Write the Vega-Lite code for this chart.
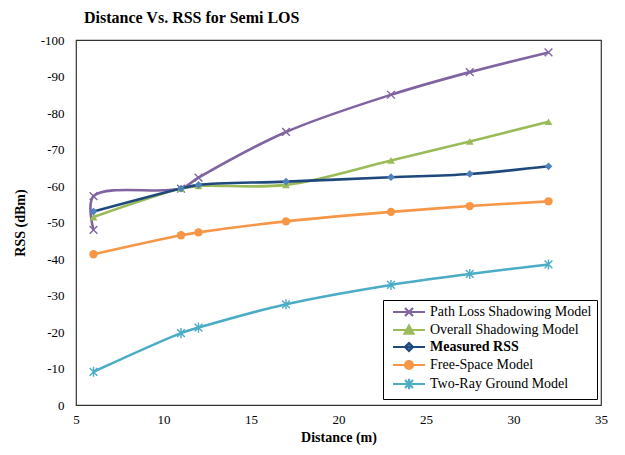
{
  "$schema": "https://vega.github.io/schema/vega-lite/v6.json",
  "autosize": {"type": "none"},
  "width": 525,
  "height": 365,
  "padding": {"left": 76, "top": 40, "right": 24, "bottom": 50},
  "background": "white",
  "config": {
    "font": "Times New Roman",
    "view": {"stroke": "#333", "strokeWidth": 1.2},
    "axis": {"labelFont": "Times New Roman", "titleFont": "Times New Roman", "labelFontSize": 13, "titleFontSize": 14, "labelColor": "#000", "titleColor": "#000", "grid": false, "ticks": false, "domain": false},
    "legend": {"labelFont": "Times New Roman"},
    "title": {"font": "Times New Roman"}
  },
  "title": {"text": "Distance Vs. RSS for Semi LOS", "anchor": "start", "frame": "group", "dx": 8, "offset": 8, "fontSize": 16, "fontWeight": "bold", "color": "#000", "font": "Times New Roman"},
  "data": {"values": [
    {"series": "Path Loss Shadowing Model", "ord": 1, "x": 6, "y": -48},
    {"series": "Path Loss Shadowing Model", "ord": 2, "x": 6, "y": -57.2},
    {"series": "Path Loss Shadowing Model", "ord": 3, "x": 11, "y": -59.3},
    {"series": "Path Loss Shadowing Model", "ord": 4, "x": 12, "y": -62.3},
    {"series": "Path Loss Shadowing Model", "ord": 5, "x": 17, "y": -74.8},
    {"series": "Path Loss Shadowing Model", "ord": 6, "x": 23, "y": -85},
    {"series": "Path Loss Shadowing Model", "ord": 7, "x": 27.5, "y": -91.2},
    {"series": "Path Loss Shadowing Model", "ord": 8, "x": 32, "y": -96.6},
    {"series": "Overall Shadowing Model", "ord": 1, "x": 6, "y": -51.5},
    {"series": "Overall Shadowing Model", "ord": 2, "x": 11, "y": -59.3},
    {"series": "Overall Shadowing Model", "ord": 3, "x": 12, "y": -60},
    {"series": "Overall Shadowing Model", "ord": 4, "x": 17, "y": -60.3},
    {"series": "Overall Shadowing Model", "ord": 5, "x": 23, "y": -67},
    {"series": "Overall Shadowing Model", "ord": 6, "x": 27.5, "y": -72.2},
    {"series": "Overall Shadowing Model", "ord": 7, "x": 32, "y": -77.6},
    {"series": "Measured RSS", "ord": 1, "x": 6, "y": -53},
    {"series": "Measured RSS", "ord": 2, "x": 11, "y": -59.3},
    {"series": "Measured RSS", "ord": 3, "x": 12, "y": -60.3},
    {"series": "Measured RSS", "ord": 4, "x": 17, "y": -61.2},
    {"series": "Measured RSS", "ord": 5, "x": 23, "y": -62.4},
    {"series": "Measured RSS", "ord": 6, "x": 27.5, "y": -63.3},
    {"series": "Measured RSS", "ord": 7, "x": 32, "y": -65.4},
    {"series": "Free-Space Model", "ord": 1, "x": 6, "y": -41.3},
    {"series": "Free-Space Model", "ord": 2, "x": 11, "y": -46.5},
    {"series": "Free-Space Model", "ord": 3, "x": 12, "y": -47.3},
    {"series": "Free-Space Model", "ord": 4, "x": 17, "y": -50.3},
    {"series": "Free-Space Model", "ord": 5, "x": 23, "y": -52.9},
    {"series": "Free-Space Model", "ord": 6, "x": 27.5, "y": -54.5},
    {"series": "Free-Space Model", "ord": 7, "x": 32, "y": -55.8},
    {"series": "Two-Ray Ground Model", "ord": 1, "x": 6, "y": -9.1},
    {"series": "Two-Ray Ground Model", "ord": 2, "x": 11, "y": -19.7},
    {"series": "Two-Ray Ground Model", "ord": 3, "x": 12, "y": -21.2},
    {"series": "Two-Ray Ground Model", "ord": 4, "x": 17, "y": -27.6},
    {"series": "Two-Ray Ground Model", "ord": 5, "x": 23, "y": -32.9},
    {"series": "Two-Ray Ground Model", "ord": 6, "x": 27.5, "y": -35.9},
    {"series": "Two-Ray Ground Model", "ord": 7, "x": 32, "y": -38.5}
  ]},
  "encoding": {
    "x": {"field": "x", "type": "quantitative", "scale": {"domain": [5, 35], "nice": false, "zero": false}, "axis": {"values": [5, 10, 15, 20, 25, 30, 35], "title": "Distance (m)", "titleFontWeight": "bold", "labelPadding": 8, "titlePadding": 4, "labelFlush": false,
      "encode": {"labels": {"update": {"font": {"value": "Times New Roman"}}}, "title": {"update": {"font": {"value": "Times New Roman"}}}}}},
    "y": {"field": "y", "type": "quantitative", "scale": {"domain": [0, -100], "nice": false, "zero": false}, "axis": {"values": [0, -10, -20, -30, -40, -50, -60, -70, -80, -90, -100], "labelExpr": "'' + datum.value", "title": "RSS (dBm)", "titleFontWeight": "bold", "labelPadding": 12, "titlePadding": 13,
      "encode": {"labels": {"update": {"font": {"value": "Times New Roman"}}}, "title": {"update": {"font": {"value": "Times New Roman"}}}}}}
  },
  "layer": [
    {
      "mark": {"type": "line", "interpolate": "catmull-rom", "strokeWidth": 2.6},
      "encoding": {
        "order": {"field": "ord", "type": "quantitative"},
        "color": {"field": "series", "type": "nominal",
          "scale": {"domain": ["Path Loss Shadowing Model", "Overall Shadowing Model", "Measured RSS", "Free-Space Model", "Two-Ray Ground Model"], "range": ["#8064A2", "#9BBB59", "#1F497D", "#F79646", "#4BACC6"]},
          "legend": {
            "title": null, "orient": "none", "legendX": 307, "legendY": 260,
            "strokeColor": "#000", "fillColor": "white", "padding": 5,
            "labelFont": "Times New Roman", "labelFontSize": 14, "labelColor": "#000", "labelLimit": 300,
            "symbolSize": 64, "symbolStrokeWidth": 2.2, "symbolOffset": 14, "labelOffset": 14, "rowPadding": 0,
            "encode": {
              "symbols": {"update": {
                "shape": {"signal": "datum.value === 'Path Loss Shadowing Model' ? 'M-4,0L4,0M-1,-1L1,1M-1,1L1,-1' : datum.value === 'Overall Shadowing Model' ? 'M-4,0L4,0M0,-1.1L1.1,0.9L-1.1,0.9Z' : datum.value === 'Measured RSS' ? 'M-4,0L4,0M0,-1L1,0L0,1L-1,0Z' : datum.value === 'Free-Space Model' ? 'M-4,0L4,0M1,0A1,1,0,1,1,-1,0A1,1,0,1,1,1,0Z' : 'M-4,0L4,0M-1,-1L1,1M-1,1L1,-1M0,-1.3L0,1.3'"},
                "fill": {"signal": "datum.value === 'Path Loss Shadowing Model' ? '#8064A2' : datum.value === 'Overall Shadowing Model' ? '#9BBB59' : datum.value === 'Measured RSS' ? '#4F81BD' : datum.value === 'Free-Space Model' ? '#F79646' : '#4BACC6'"},
                "strokeWidth": {"value": 2.2},
                "fillOpacity": {"value": 1},
                "strokeOpacity": {"value": 1},
                "size": {"value": 64}
              }},
              "labels": {"update": {"font": {"value": "Times New Roman"}, "fontWeight": {"signal": "datum.value === 'Measured RSS' ? 'bold' : 'normal'"}}}
            }
          }
        }
      }
    },
    {
      "transform": [{"filter": "datum.series === 'Path Loss Shadowing Model'"}],
      "mark": {"type": "point", "shape": "M-1,-1L1,1M-1,1L1,-1", "size": 60, "strokeWidth": 1.4, "color": "#8064A2", "opacity": 1}
    },
    {
      "transform": [{"filter": "datum.series === 'Overall Shadowing Model'"}],
      "mark": {"type": "point", "shape": "triangle-up", "filled": true, "size": 60, "color": "#9BBB59", "opacity": 1}
    },
    {
      "transform": [{"filter": "datum.series === 'Measured RSS'"}],
      "mark": {"type": "point", "shape": "diamond", "filled": true, "size": 60, "color": "#4F81BD", "opacity": 1}
    },
    {
      "transform": [{"filter": "datum.series === 'Free-Space Model'"}],
      "mark": {"type": "point", "shape": "circle", "filled": true, "size": 70, "color": "#F79646", "opacity": 1}
    },
    {
      "transform": [{"filter": "datum.series === 'Two-Ray Ground Model'"}],
      "mark": {"type": "point", "shape": "M-1,-1L1,1M-1,1L1,-1M0,-1.3L0,1.3", "size": 60, "strokeWidth": 1.4, "color": "#4BACC6", "opacity": 1}
    }
  ]
}
